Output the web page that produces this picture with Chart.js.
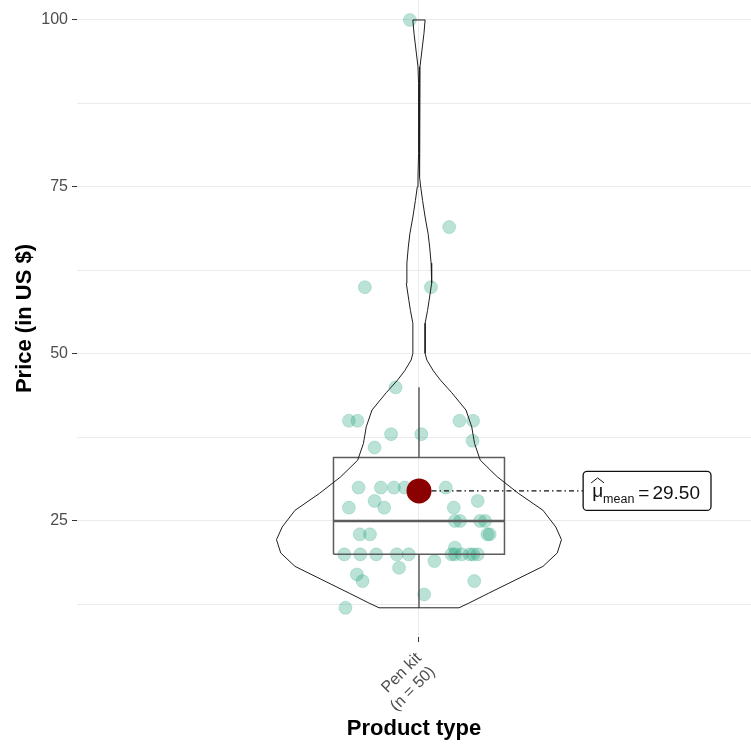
<!DOCTYPE html>
<html>
<head>
<meta charset="utf-8">
<title>Price by product type</title>
<script src="https://cdn.jsdelivr.net/npm/chart.js@4.4.0/dist/chart.umd.min.js"></script>
<style>
  html, body { margin: 0; padding: 0; background: #ffffff; }
  #wrap { width: 751px; height: 745px; }
</style>
</head>
<body>
<div id="wrap"><canvas id="chart" width="751" height="745"></canvas></div>
<script>
// ---- data -------------------------------------------------------------
const categories = ['Pen kit'];

// prices (US $) of the 50 pen kits
const priceValues = [
  100, 69, 60, 60, 45,
  40, 40, 38, 38, 40, 40, 37, 36,
  30, 30, 30, 30, 30,
  28, 27, 27, 27, 28,
  25, 25, 25, 25,
  23, 23, 23, 23,
  20, 20, 20, 20, 20, 20, 20, 20, 20, 20, 20,
  21,
  18, 19, 17, 16, 16, 14, 12
];

// horizontal jitter of each point around the category centre
const jitterX = [
  0.984, 1.053, 0.905, 1.021, 0.959,
  0.877, 0.892, 0.951, 1.004, 1.071, 1.095, 1.094, 0.922,
  0.894, 0.933, 0.956, 0.975, 1.047,
  0.922, 0.877, 0.939, 1.061, 1.103,
  1.063, 1.072, 1.107, 1.116,
  1.120, 1.124, 0.896, 0.914,
  0.869, 0.897, 0.925, 0.961, 0.982, 1.057, 1.063, 1.075, 1.089, 1.095, 1.103,
  1.063,
  0.965, 1.027, 0.891, 0.901, 1.097, 1.009, 0.871
];

// kernel density of the prices (relative width of the violin)
const violinY = [
  12, 12.7, 14.2, 16.2, 18.2, 20.2, 22.2, 24.1, 26.6, 29.1, 31.6, 34.1,
  36.6, 39.1, 41.6, 44.2, 46.1, 47.5, 49.1, 50.1, 52, 54.6, 56.5, 58,
  60.6, 63.6, 66, 68, 70.5, 73, 75, 76.5, 80, 85, 90.5, 93, 95.5, 98, 100
];
const violinDensity = [
  0.28, 0.35, 0.49, 0.68, 0.87, 0.97, 1.00, 0.96, 0.87, 0.70, 0.55, 0.43,
  0.39, 0.37, 0.33, 0.23, 0.15, 0.10, 0.055, 0.043, 0.043, 0.043, 0.06, 0.071,
  0.089, 0.085, 0.075, 0.064, 0.043, 0.025, 0.012, 0.007, 0.003, 0.002, 0.004, 0.007, 0.021, 0.035, 0.043
];

const majorTicks = [25, 50, 75, 100];
const minorTicks = [12.5, 37.5, 62.5, 87.5];

// ---- summary statistics ----------------------------------------------
function quantile(values, p) {
  const s = [...values].sort((a, b) => a - b);
  const h = (s.length - 1) * p;
  const lo = Math.floor(h);
  return s[lo] + (h - lo) * ((s[lo + 1] ?? s[lo]) - s[lo]);
}
const n = priceValues.length;
const meanValue = priceValues.reduce((a, b) => a + b, 0) / n;
const q1 = quantile(priceValues, 0.25);
const med = quantile(priceValues, 0.5);
const q3 = quantile(priceValues, 0.75);
const iqr = q3 - q1;
const upperWhisker = Math.max(...priceValues.filter(v => v <= q3 + 1.5 * iqr));
const lowerWhisker = Math.min(...priceValues.filter(v => v >= q1 - 1.5 * iqr));

// ---- geometry helpers -------------------------------------------------
const CENTER = 1;
const VIOLIN_HALF = 0.25;
const BOX_HALF = 0.15;
const LABEL_X = 1.288;

const violinOutline = [];
violinY.forEach((y, i) => violinOutline.push({ x: CENTER - VIOLIN_HALF * violinDensity[i], y }));
for (let i = violinY.length - 1; i >= 0; i--) {
  violinOutline.push({ x: CENTER + VIOLIN_HALF * violinDensity[i], y: violinY[i] });
}
violinOutline.push(violinOutline[0]);

const points = priceValues.map((v, i) => ({ x: jitterX[i], y: v }));

const FONT = '"Liberation Sans", Arial, Helvetica, sans-serif';
const BOX_COLOR = '#5c5c5c';

function lineSet(data, color, width, order, extra) {
  return Object.assign({
    data, showLine: true, fill: false, borderColor: color, borderWidth: width,
    pointRadius: 0, pointHoverRadius: 0, tension: 0, order,
    borderCapStyle: 'butt', borderJoinStyle: 'miter'
  }, extra || {});
}

// label box with the mean
const meanLabel = {
  id: 'meanLabel',
  afterDatasetsDraw(chart) {
    const { ctx, scales: { x, y } } = chart;
    const left = x.getPixelForValue(LABEL_X);
    const cy = y.getPixelForValue(meanValue);
    const big = '19px ' + FONT;
    const small = '12.5px ' + FONT;
    const valueText = meanValue.toFixed(2);

    ctx.save();
    ctx.font = big;
    const wMu = ctx.measureText('\u03bc').width;
    const wEq = ctx.measureText('=').width;
    const wVal = ctx.measureText(valueText).width;
    ctx.font = small;
    const wSub = ctx.measureText('mean').width;

    const muX = left + 9;
    const subX = muX + wMu;
    const eqX = subX + wSub + 4;
    const valX = eqX + wEq + 3;
    const right = valX + wVal + 11;
    const h = 39;
    const top = cy - h / 2;

    ctx.beginPath();
    ctx.roundRect(left, top, right - left, h, 4);
    ctx.fillStyle = '#ffffff';
    ctx.fill();
    ctx.lineWidth = 1.3;
    ctx.strokeStyle = '#111111';
    ctx.stroke();

    ctx.fillStyle = '#111111';
    ctx.textBaseline = 'alphabetic';
    ctx.textAlign = 'left';
    ctx.font = big;
    ctx.fillText('\u03bc', muX, cy + 6);
    // hat over mu
    ctx.beginPath();
    ctx.lineWidth = 1;
    ctx.moveTo(muX - 1, cy - 8);
    ctx.lineTo(muX + wMu / 2, cy - 13);
    ctx.lineTo(muX + wMu + 1, cy - 8);
    ctx.stroke();
    ctx.font = small;
    ctx.fillText('mean', subX, cy + 12);
    ctx.font = big;
    ctx.fillText('=', eqX, cy + 8);
    ctx.fillText(valueText, valX, cy + 8);
    ctx.restore();
  }
};

new Chart(document.getElementById('chart'), {
  type: 'scatter',
  data: {
    datasets: [
      // mean marker
      { data: [{ x: CENTER, y: meanValue }], pointRadius: 12.5, pointHoverRadius: 12.5,
        backgroundColor: '#8B0000', borderWidth: 0, order: 0 },
      // connector to the label
      lineSet([{ x: CENTER, y: meanValue }, { x: LABEL_X, y: meanValue }], '#111111', 1.2, 1,
        { borderDash: [5, 3, 1.5, 3] }),
      // violin
      lineSet(violinOutline, '#1e1e1e', 1, 2),
      // box, median and whiskers
      lineSet([
        { x: CENTER - BOX_HALF, y: q1 }, { x: CENTER + BOX_HALF, y: q1 },
        { x: CENTER + BOX_HALF, y: q3 }, { x: CENTER - BOX_HALF, y: q3 },
        { x: CENTER - BOX_HALF, y: q1 }
      ], BOX_COLOR, 1.5, 3),
      lineSet([{ x: CENTER - BOX_HALF, y: med }, { x: CENTER + BOX_HALF, y: med }], BOX_COLOR, 2.5, 3),
      lineSet([{ x: CENTER, y: q3 }, { x: CENTER, y: upperWhisker }], BOX_COLOR, 1.5, 3),
      lineSet([{ x: CENTER, y: q1 }, { x: CENTER, y: lowerWhisker }], BOX_COLOR, 1.5, 3),
      // individual prices
      { data: points, pointRadius: 6.5, pointHoverRadius: 6.5,
        backgroundColor: 'rgba(27,158,119,0.3)', borderColor: 'rgba(27,158,119,0.2)',
        borderWidth: 1, order: 4 }
    ]
  },
  options: {
    responsive: false,
    animation: false,
    events: [],
    devicePixelRatio: 1,
    layout: { padding: 0, autoPadding: false },
    plugins: { legend: { display: false }, tooltip: { enabled: false } },
    scales: {
      x: {
        type: 'linear',
        min: 0.4,
        max: 1.5825,
        afterBuildTicks: s => { s.ticks = [{ value: CENTER }]; },
        afterFit: s => { s.height = 108; s.paddingLeft = 0; s.paddingRight = 0; },
        border: { display: false },
        grid: { color: '#EBEBEB', lineWidth: 1, tickColor: '#333333', tickLength: 5 },
        ticks: {
          autoSkip: false,
          minRotation: 45,
          maxRotation: 45,
          padding: 7,
          color: '#4D4D4D',
          font: { family: FONT, size: 16 },
          callback: () => [categories[0], '(n = ' + n + ')']
        },
        title: {
          display: true,
          text: 'Product type',
          color: '#000000',
          font: { family: FONT, size: 22, weight: 'bold' },
          padding: { top: 0, bottom: 3 }
        }
      },
      y: {
        type: 'linear',
        min: 7.63,
        max: 102.99,
        afterBuildTicks: s => {
          s.ticks = [...minorTicks, ...majorTicks].sort((a, b) => a - b).map(v => ({ value: v }));
        },
        afterFit: s => { s.width = 77; s.paddingTop = 0; s.paddingBottom = 0; },
        border: { display: false },
        grid: {
          color: '#EBEBEB',
          lineWidth: 1,
          tickLength: 5,
          tickColor: ctx => majorTicks.includes(ctx.tick && ctx.tick.value) ? '#333333' : 'rgba(0,0,0,0)'
        },
        ticks: {
          padding: 4,
          color: '#4D4D4D',
          font: { family: FONT, size: 16 },
          callback: v => majorTicks.includes(v) ? String(v) : ''
        },
        title: {
          display: true,
          text: 'Price (in US $)',
          color: '#000000',
          font: { family: FONT, size: 22, weight: 'bold' },
          padding: { top: 12, bottom: 0 }
        }
      }
    }
  },
  plugins: [meanLabel]
});
</script>
</body>
</html>
